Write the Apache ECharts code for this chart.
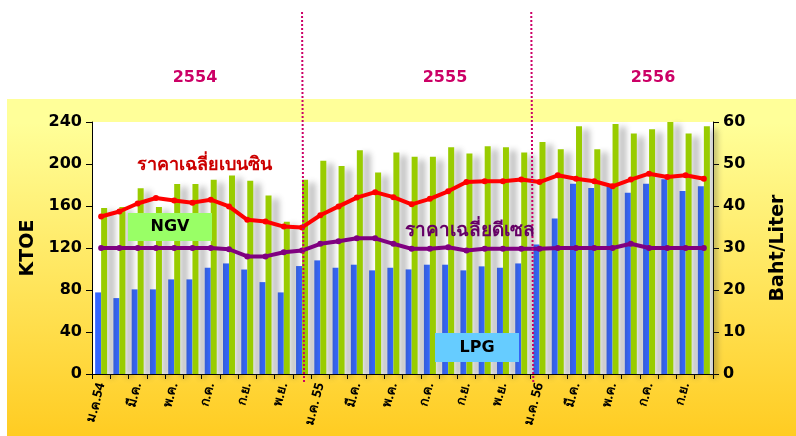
<!DOCTYPE html>
<html>
<head>
<meta charset="utf-8">
<script src="https://cdn.jsdelivr.net/npm/echarts@6/dist/echarts.min.js"></script>
<style>
html,body{margin:0;padding:0;background:#fff;}
#c{width:796px;height:436px;}
</style>
</head>
<body>
<div id="c"></div>
<script>
var months = ['ม.ค.54','ก.พ.','มี.ค.','เม.ย.','พ.ค.','มิ.ย.','ก.ค.','ส.ค.','ก.ย.','ต.ค.','พ.ย.','ธ.ค.',
  'ม.ค. 55','ก.พ.','มี.ค.','เม.ย.','พ.ค.','มิ.ย.','ก.ค.','ส.ค.','ก.ย.','ต.ค.','พ.ย.','ธ.ค.',
  'ม.ค. 56','ก.พ.','มี.ค.','เม.ย.','พ.ค.','มิ.ย.','ก.ค.','ส.ค.','ก.ย.','ต.ค.'];
var years = ['2554','2555','2556'];
var lpgKtoe = [77.7,72.3,80.6,80.6,90.1,90.1,101.2,105.3,99.5,87.5,77.7,102.8,
  108.2,101.2,104.1,98.7,101.2,99.6,104.1,104.1,98.7,102.5,101.2,105.3,
  123.4,148,181.3,177.1,178.7,172.7,181.3,185.4,174.3,178.7];
var ngvKtoe = [158,159,177,159,181,181,185,189,184,170,145,185,
  203,198,213,192,211,207,207,216,210,217,216,211,
  221,214,236,214,238,229,233,240,229,236];
var gasolinePrice = [37.5,38.7,40.6,41.9,41.3,40.8,41.5,39.9,36.7,36.3,35.1,34.9,
  37.8,39.9,42.0,43.3,42.1,40.4,41.7,43.5,45.7,45.9,45.9,46.3,
  45.7,47.3,46.5,45.9,44.7,46.3,47.7,46.9,47.3,46.5];
var dieselPrice = [30,30,30,30,30,30,30,29.7,28.0,28.0,29.0,29.4,
  31.0,31.6,32.3,32.3,31.0,29.8,29.8,30.2,29.4,29.8,29.8,29.8,
  29.8,30,30,30,30,31,30,30,30,30];
var leftTicks = {min:0, max:240, interval:40};
var rightTicks = {min:0, max:60, interval:10};

var FONT = '"DejaVu Sans", Verdana, sans-serif';
var THAI = 'Tahoma, "Noto Sans", "DejaVu Sans", sans-serif';
var chart = echarts.init(document.getElementById('c'), null, {renderer:'canvas'});

function txt(id, text, x, y, color, size, align, shadow, family) {
  return {
    type:'text', id:id, z:50, x:x, y:y,
    style:{text:text, fill:color, fontSize:size, fontWeight:'bold', fontFamily:family||FONT,
      align:align||'center', verticalAlign:'middle', textAlign:align||'center', textVerticalAlign:'middle',
      shadowColor: shadow ? 'rgba(0,0,0,0.3)' : 'transparent', shadowBlur: shadow?2:0, shadowOffsetX: shadow?1:0, shadowOffsetY: shadow?1:0}
  };
}

var option = {
  animation:false,
  backgroundColor:'#ffffff',
  grid:{left:92, right:75, top:122, bottom:62, show:true, backgroundColor:'#ffffff', borderWidth:0, containLabel:false},
  xAxis:{
    type:'category', data:months, boundaryGap:true,
    axisLine:{show:true, lineStyle:{color:'#000', width:1}},
    axisTick:{show:true, interval:0, length:5, inside:false, lineStyle:{color:'#000'}},
    axisLabel:{interval:1, rotate:75, fontSize:13, fontWeight:'bold', color:'#000', fontFamily:THAI, margin:9}
  },
  yAxis:[{
    type:'value', min:leftTicks.min, max:leftTicks.max, interval:leftTicks.interval,
    name:'KTOE', nameLocation:'middle', nameGap:52, nameRotate:90,
    nameTextStyle:{fontSize:19, fontWeight:'bold', color:'#000', fontFamily:FONT},
    axisLine:{show:true, lineStyle:{color:'#000', width:1}},
    axisTick:{show:true, length:6, lineStyle:{color:'#000'}},
    splitLine:{show:false},
    axisLabel:{fontSize:16, fontWeight:'bold', color:'#000', fontFamily:FONT, margin:10}
  },{
    type:'value', min:rightTicks.min, max:rightTicks.max, interval:rightTicks.interval,
    name:'Baht/Liter', nameLocation:'middle', nameGap:56, nameRotate:90,
    nameTextStyle:{fontSize:19, fontWeight:'bold', color:'#000', fontFamily:FONT},
    axisLine:{show:true, lineStyle:{color:'#000', width:1}},
    axisTick:{show:true, length:6, lineStyle:{color:'#000'}},
    splitLine:{show:false},
    axisLabel:{fontSize:16, fontWeight:'bold', color:'#000', fontFamily:FONT, margin:10}
  }],
  series:[{
    name:'LPG', type:'bar', data:lpgKtoe, yAxisIndex:0, barWidth:6, barGap:'0%',
    itemStyle:{color:'#3366FF'}, z:2
  },{
    name:'NGV', type:'bar', data:ngvKtoe, yAxisIndex:0, barWidth:6, barGap:'0%',
    itemStyle:{color:'#99CC00', shadowColor:'rgba(60,60,60,0.4)', shadowBlur:6, shadowOffsetX:7, shadowOffsetY:3}, z:2
  },{
    name:'ราคาเฉลี่ยเบนซิน', type:'line', data:gasolinePrice, yAxisIndex:1,
    symbol:'circle', symbolSize:6, lineStyle:{color:'#FF0000', width:4}, itemStyle:{color:'#FF0000'}, z:5
  },{
    name:'ราคาเฉลี่ยดีเซล', type:'line', data:dieselPrice, yAxisIndex:1,
    symbol:'circle', symbolSize:6, lineStyle:{color:'#800080', width:4}, itemStyle:{color:'#800080'}, z:5
  }],
  graphic:[
    {type:'rect', id:'frame', z:-100, silent:true, shape:{x:7, y:99, width:789, height:337},
     style:{fill:new echarts.graphic.LinearGradient(0,0,0,1,[{offset:0,color:'#FFFF99'},{offset:0.07,color:'#FFFF99'},{offset:1,color:'#FFCC22'}])}},
    txt('y0', years[0], 195, 78, '#CC0066', 16, 'center', true),
    txt('y1', years[1], 445, 78, '#CC0066', 16, 'center', true),
    txt('y2', years[2], 653, 78, '#CC0066', 16, 'center', true),
    {type:'rect', id:'ngvbox', z:40, shape:{x:128, y:213, width:84, height:28}, style:{fill:'#99FF66'}},
    txt('ngvt', 'NGV', 170, 227, '#000', 16, 'center', true),
    {type:'rect', id:'lpgbox', z:40, shape:{x:435, y:333, width:84, height:29}, style:{fill:'#66CCFF'}},
    txt('lpgt', 'LPG', 477, 348, '#000', 16, 'center', true),
    txt('gasl', 'ราคาเฉลี่ยเบนซิน', 137, 165, '#CC0000', 18, 'left', true, THAI),
    txt('dsl', 'ราคาเฉลี่ยดีเซล', 405, 231, '#660066', 19, 'left', true, THAI)
  ]
};
chart.setOption(option);

var x1 = chart.convertToPixel({xAxisIndex:0}, 11);
var xa = chart.convertToPixel({xAxisIndex:0}, 23);
var xb = chart.convertToPixel({xAxisIndex:0}, 24);
var x2 = xa + (xb - xa) * 0.55;
chart.setOption({graphic:[
  {type:'line', id:'d1', z:30, shape:{x1:x1, y1:12, x2:x1+2, y2:384}, style:{stroke:'#CC0066', lineWidth:2, lineDash:[2,2]}},
  {type:'line', id:'d2', z:30, shape:{x1:x2, y1:12, x2:x2+2, y2:384}, style:{stroke:'#CC0066', lineWidth:2, lineDash:[2,2]}}
]});
</script>
</body>
</html>
